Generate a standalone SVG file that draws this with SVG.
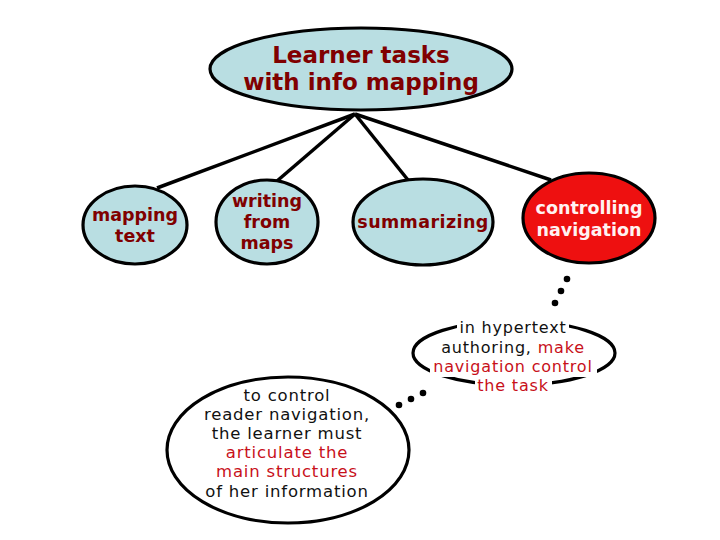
<svg xmlns="http://www.w3.org/2000/svg" width="720" height="540" viewBox="0 0 720 540">
<style>
.node{fill:#b9dee2;stroke:#000;stroke-width:3.2}
.hot{fill:#ee1010;stroke:#000;stroke-width:3.2}
.note{fill:#fff;stroke:#000;stroke-width:3.2}
.lbl{font-family:"DejaVu Sans","Verdana",sans-serif;font-weight:bold;fill:#800000;text-anchor:middle}
.w{fill:#fff2f2}
.txt{font-family:"DejaVu Sans","Verdana",sans-serif;fill:#111;text-anchor:middle;letter-spacing:0.8px}
.red{fill:#c8101a}
.conn{stroke:#000;stroke-width:3.5;fill:none}
.dot{fill:#000}
.bg{fill:#fff}
</style>
<rect width="720" height="540" fill="#fff"/>
<g id="connectors">
<line class="conn" x1="355" y1="114" x2="157" y2="188"/>
<line class="conn" x1="355" y1="114" x2="277" y2="181"/>
<line class="conn" x1="355" y1="114" x2="408" y2="180"/>
<line class="conn" x1="355" y1="114" x2="551" y2="180"/>
<circle class="dot" cx="567" cy="279" r="3.3"/>
<circle class="dot" cx="561" cy="291" r="3.3"/>
<circle class="dot" cx="555" cy="303" r="3.3"/>
<circle class="dot" cx="399" cy="405" r="3.3"/>
<circle class="dot" cx="411" cy="399" r="3.3"/>
<circle class="dot" cx="423" cy="393" r="3.3"/>
</g>
<g id="root">
<ellipse class="node" cx="361" cy="69" rx="151" ry="41"/>
<text class="lbl" x="361" y="63" font-size="23">Learner tasks</text>
<text class="lbl" x="361" y="90" font-size="23">with info mapping</text>
</g>
<g id="mapping-text">
<ellipse class="node" cx="135" cy="225" rx="52" ry="39"/>
<text class="lbl" x="135" y="221" font-size="17.5">mapping</text>
<text class="lbl" x="135" y="242" font-size="17.5">text</text>
</g>
<g id="writing-from-maps">
<ellipse class="node" cx="267" cy="222" rx="51" ry="42"/>
<text class="lbl" x="267" y="207" font-size="17.5">writing</text>
<text class="lbl" x="267" y="228" font-size="17.5">from</text>
<text class="lbl" x="267" y="249" font-size="17.5">maps</text>
</g>
<g id="summarizing">
<ellipse class="node" cx="423" cy="222" rx="70" ry="43"/>
<text class="lbl" x="423" y="228" font-size="17.5" letter-spacing="0.4">summarizing</text>
</g>
<g id="controlling-navigation">
<ellipse class="hot" cx="589" cy="218" rx="66" ry="45"/>
<text class="lbl w" x="589" y="214" font-size="17.5">controlling</text>
<text class="lbl w" x="589" y="236" font-size="17.5">navigation</text>
</g>
<g id="hypertext-note">
<ellipse class="note" cx="514" cy="353" rx="101" ry="32"/>
<rect class="bg" x="457" y="317" width="112" height="20"/>
<rect class="bg" x="430" y="358" width="167" height="19"/>
<rect class="bg" x="475" y="376" width="77" height="19"/>
<text class="txt" font-size="16" x="513" y="333">in hypertext</text>
<text class="txt" font-size="16" x="513" y="353">authoring, <tspan class="red">make</tspan></text>
<text class="txt red" font-size="16" x="513" y="372">navigation control</text>
<text class="txt red" font-size="16" x="513" y="391">the task</text>
</g>
<g id="articulate-note">
<ellipse class="note" cx="288" cy="450" rx="121" ry="73"/>
<text class="txt" font-size="16.5" x="287" y="401">to control</text>
<text class="txt" font-size="16.5" x="287" y="420">reader navigation,</text>
<text class="txt" font-size="16.5" x="287" y="439">the learner must</text>
<text class="txt red" font-size="16.5" x="287" y="458">articulate the</text>
<text class="txt red" font-size="16.5" x="287" y="477">main structures</text>
<text class="txt" font-size="16.5" x="287" y="497">of her information</text>
</g>
</svg>
